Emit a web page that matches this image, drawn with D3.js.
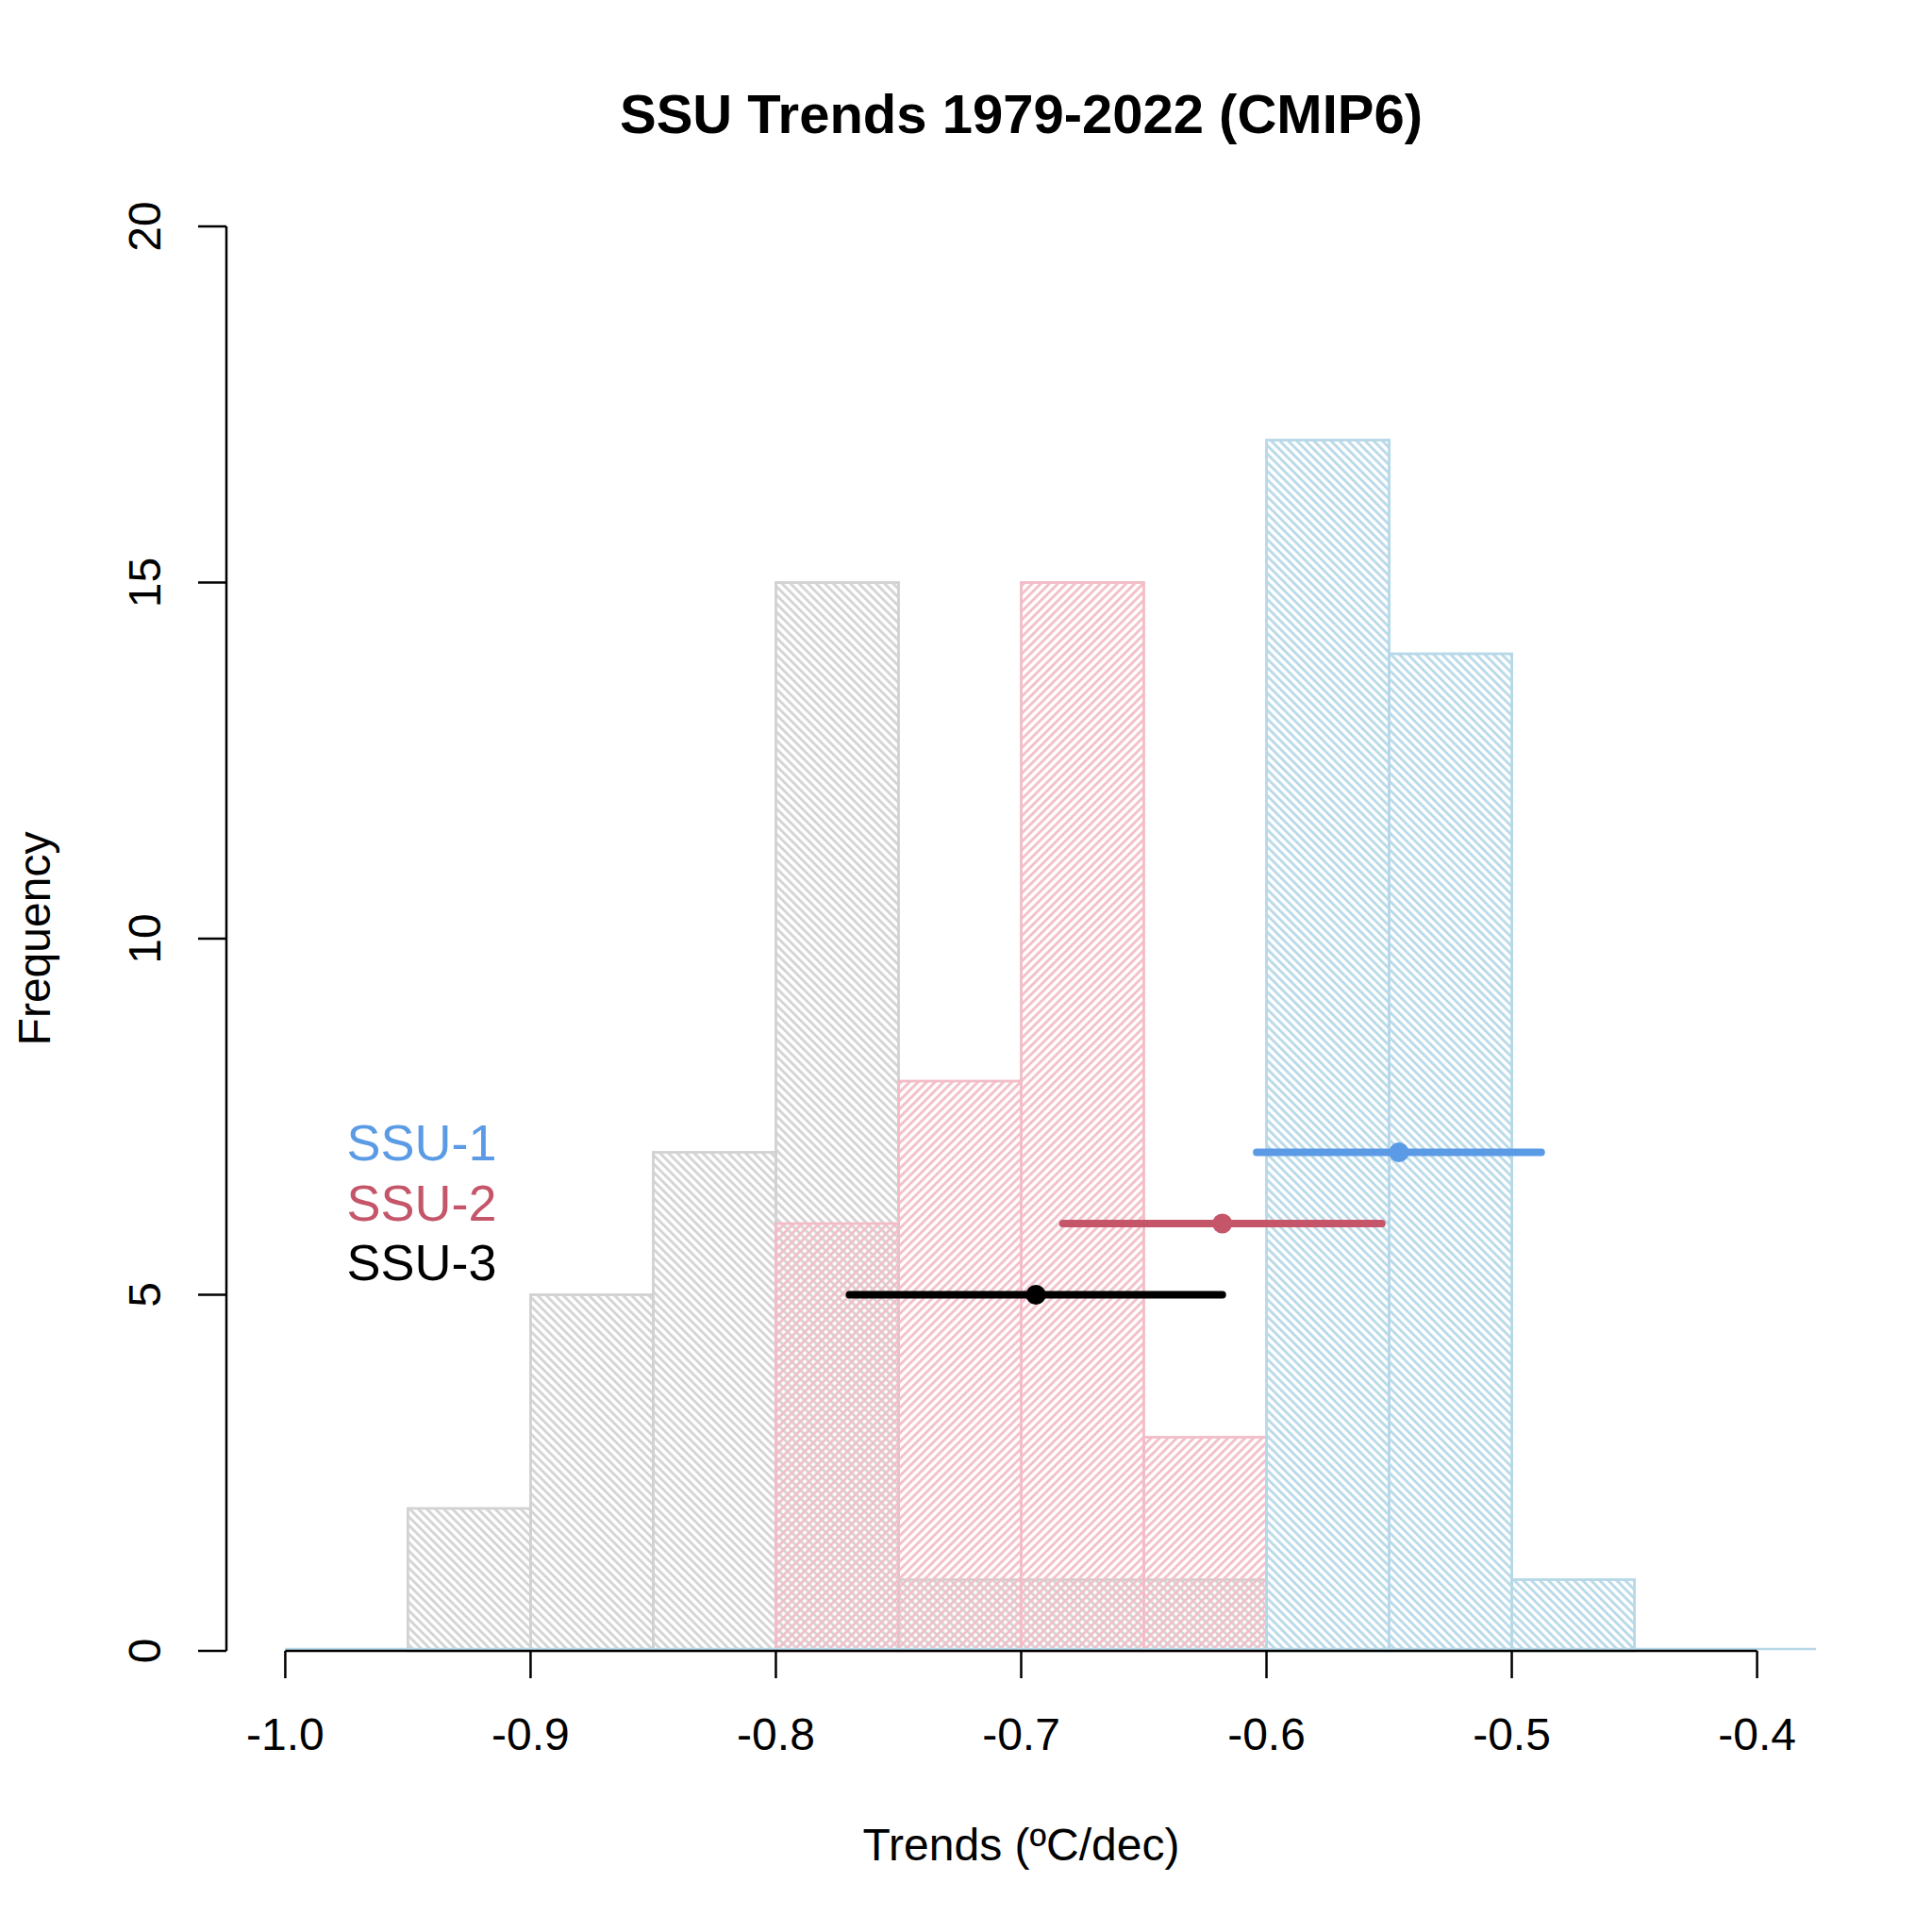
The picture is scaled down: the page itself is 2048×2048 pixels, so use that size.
<!DOCTYPE html>
<html>
<head>
<meta charset="utf-8">
<script src="https://cdn.jsdelivr.net/npm/d3@7"></script>
<style>
  html, body { margin: 0; padding: 0; background: #ffffff; }
  svg { display: block; font-family: "Liberation Sans", Arial, Helvetica, sans-serif; }
</style>
</head>
<body>
<div id="chart"></div>
<script>
// ---- data ----
var BIN_WIDTH = 0.05;
var SSU3_BINS = [-0.95, -0.90, -0.85, -0.80, -0.75, -0.70, -0.65];
var SSU3_COUNTS = [2, 5, 7, 15, 1, 1, 1];
var SSU2_BINS = [-0.80, -0.75, -0.70, -0.65];
var SSU2_COUNTS = [6, 8, 15, 3];
var SSU1_BINS = [-0.60, -0.55, -0.50];
var SSU1_COUNTS = [17, 14, 1];

// mean and range per series (dot, low end, high end, plotted at frequency level)
var BAR_NAMES = ["SSU-1", "SSU-2", "SSU-3"];
var BAR_MEAN = [-0.546, -0.618, -0.694];
var BAR_LO = [-0.604, -0.683, -0.770];
var BAR_HI = [-0.488, -0.553, -0.618];
var BAR_LEVEL = [7, 6, 5];

var X_TICKS = [-1.0, -0.9, -0.8, -0.7, -0.6, -0.5, -0.4];
var Y_TICKS = [0, 5, 10, 15, 20];

var LEGEND_LEVELS = [6.89, 6.04, 5.2];

var GRAY = "#d2d2d2", PINK = "#f2bdc7", LBLUE = "#b7d8e7";
var BLUE = "#5b9be6", RED = "#c5566a", BLACK = "#000000";

(function () {
  var W = 2048, H = 2048;
  var svg = d3.select("#chart").append("svg").attr("width", W).attr("height", H)
    .attr("viewBox", "0 0 " + W + " " + H);
  svg.append("rect").attr("width", W).attr("height", H).attr("fill", "#ffffff");

  // plot region like R's default 4% extension on x, exact on y
  var x = d3.scaleLinear().domain([-1.024, -0.376]).range([240, 1925]);
  var y = d3.scaleLinear().domain([0, 20]).range([1750, 240]);

  var defs = svg.append("defs");
  function hatch(id, col, angle) {
    var p = defs.append("pattern").attr("id", id).attr("patternUnits", "userSpaceOnUse")
      .attr("width", 6.4).attr("height", 6.4)
      .attr("patternTransform", "rotate(" + angle + ")");
    p.append("line").attr("x1", 1.6).attr("x2", 1.6).attr("y1", -1).attr("y2", 7.4)
      .attr("stroke", col).attr("stroke-width", 2.8);
  }
  hatch("h-gray", GRAY, -45);
  hatch("h-pink", PINK, 45);
  hatch("h-blue", LBLUE, -45);

  function hist(bins, counts, col, pat) {
    var g = svg.append("g");
    var data = bins.map(function (b, i) { return { b: b, n: counts[i] }; });
    g.selectAll("rect.fill").data(data).enter().append("rect").attr("class", "fill")
      .attr("x", function (d) { return x(d.b); })
      .attr("width", function (d) { return x(d.b + BIN_WIDTH) - x(d.b); })
      .attr("y", function (d) { return y(d.n); })
      .attr("height", function (d) { return y(0) - y(d.n); })
      .attr("fill", "url(#" + pat + ")");
    g.selectAll("rect.edge").data(data).enter().append("rect").attr("class", "edge")
      .attr("x", function (d) { return x(d.b); })
      .attr("width", function (d) { return x(d.b + BIN_WIDTH) - x(d.b); })
      .attr("y", function (d) { return y(d.n); })
      .attr("height", function (d) { return y(0) - y(d.n); })
      .attr("fill", "none").attr("stroke", col).attr("stroke-width", 2.8);
  }
  hist(SSU3_BINS, SSU3_COUNTS, GRAY, "h-gray");
  hist(SSU2_BINS, SSU2_COUNTS, PINK, "h-pink");
  hist(SSU1_BINS, SSU1_COUNTS, LBLUE, "h-blue");

  // light blue baseline under the axis
  svg.append("line").attr("x1", x(-1.0)).attr("x2", x.range()[1])
    .attr("y1", y(0) - 2).attr("y2", y(0) - 2).attr("stroke", LBLUE).attr("stroke-width", 2.5);

  // x axis
  var xa = svg.append("g").attr("transform", "translate(0," + y(0) + ")");
  xa.append("line").attr("x1", x(X_TICKS[0])).attr("x2", x(X_TICKS[X_TICKS.length - 1]))
    .attr("stroke", "#000").attr("stroke-width", 2.5);
  xa.selectAll("line.t").data(X_TICKS).enter().append("line").attr("class", "t")
    .attr("x1", x).attr("x2", x).attr("y1", 0).attr("y2", 29)
    .attr("stroke", "#000").attr("stroke-width", 2.5);
  xa.selectAll("text").data(X_TICKS).enter().append("text")
    .attr("x", x).attr("y", 105).attr("text-anchor", "middle")
    .style("font-size", "48px").text(function (d) { return d.toFixed(1); });

  // y axis
  var ya = svg.append("g").attr("transform", "translate(240,0)");
  ya.append("line").attr("y1", y(0)).attr("y2", y(20))
    .attr("stroke", "#000").attr("stroke-width", 2.5);
  ya.selectAll("line.t").data(Y_TICKS).enter().append("line").attr("class", "t")
    .attr("y1", y).attr("y2", y).attr("x1", 0).attr("x2", -30)
    .attr("stroke", "#000").attr("stroke-width", 2.5);
  ya.selectAll("text").data(Y_TICKS).enter().append("text")
    .attr("transform", function (d) { return "translate(-70," + y(d) + ") rotate(-90)"; })
    .attr("text-anchor", "middle").style("font-size", "48px").text(function (d) { return d; });

  // titles
  var cx = (x.range()[0] + x.range()[1]) / 2;
  svg.append("text").attr("x", cx).attr("y", 141).attr("text-anchor", "middle")
    .style("font-size", "58px").style("font-weight", "bold").text("SSU Trends 1979-2022 (CMIP6)");
  svg.append("text").attr("x", cx).attr("y", 1972).attr("text-anchor", "middle")
    .style("font-size", "48px").text("Trends (ºC/dec)");
  svg.append("text").attr("transform", "translate(53," + (y(0) + y(20)) / 2 + ") rotate(-90)")
    .attr("text-anchor", "middle").style("font-size", "48px").text("Frequency");

  // range bars with mean dots
  var cols = [BLUE, RED, BLACK];
  BAR_NAMES.forEach(function (name, i) {
    svg.append("line").attr("x1", x(BAR_LO[i])).attr("x2", x(BAR_HI[i]))
      .attr("y1", y(BAR_LEVEL[i])).attr("y2", y(BAR_LEVEL[i]))
      .attr("stroke", cols[i]).attr("stroke-width", 8).attr("stroke-linecap", "round");
    svg.append("circle").attr("cx", x(BAR_MEAN[i])).attr("cy", y(BAR_LEVEL[i]))
      .attr("r", 10.5).attr("fill", cols[i]);
  });

  // legend text
  svg.selectAll("text.leg").data(BAR_NAMES).enter().append("text").attr("class", "leg")
    .attr("x", x(-0.975)).attr("y", function (d, i) { return y(LEGEND_LEVELS[i]); })
    .attr("fill", function (d, i) { return cols[i]; })
    .style("font-size", "54px").text(function (d) { return d; });
})();
</script>
</body>
</html>
